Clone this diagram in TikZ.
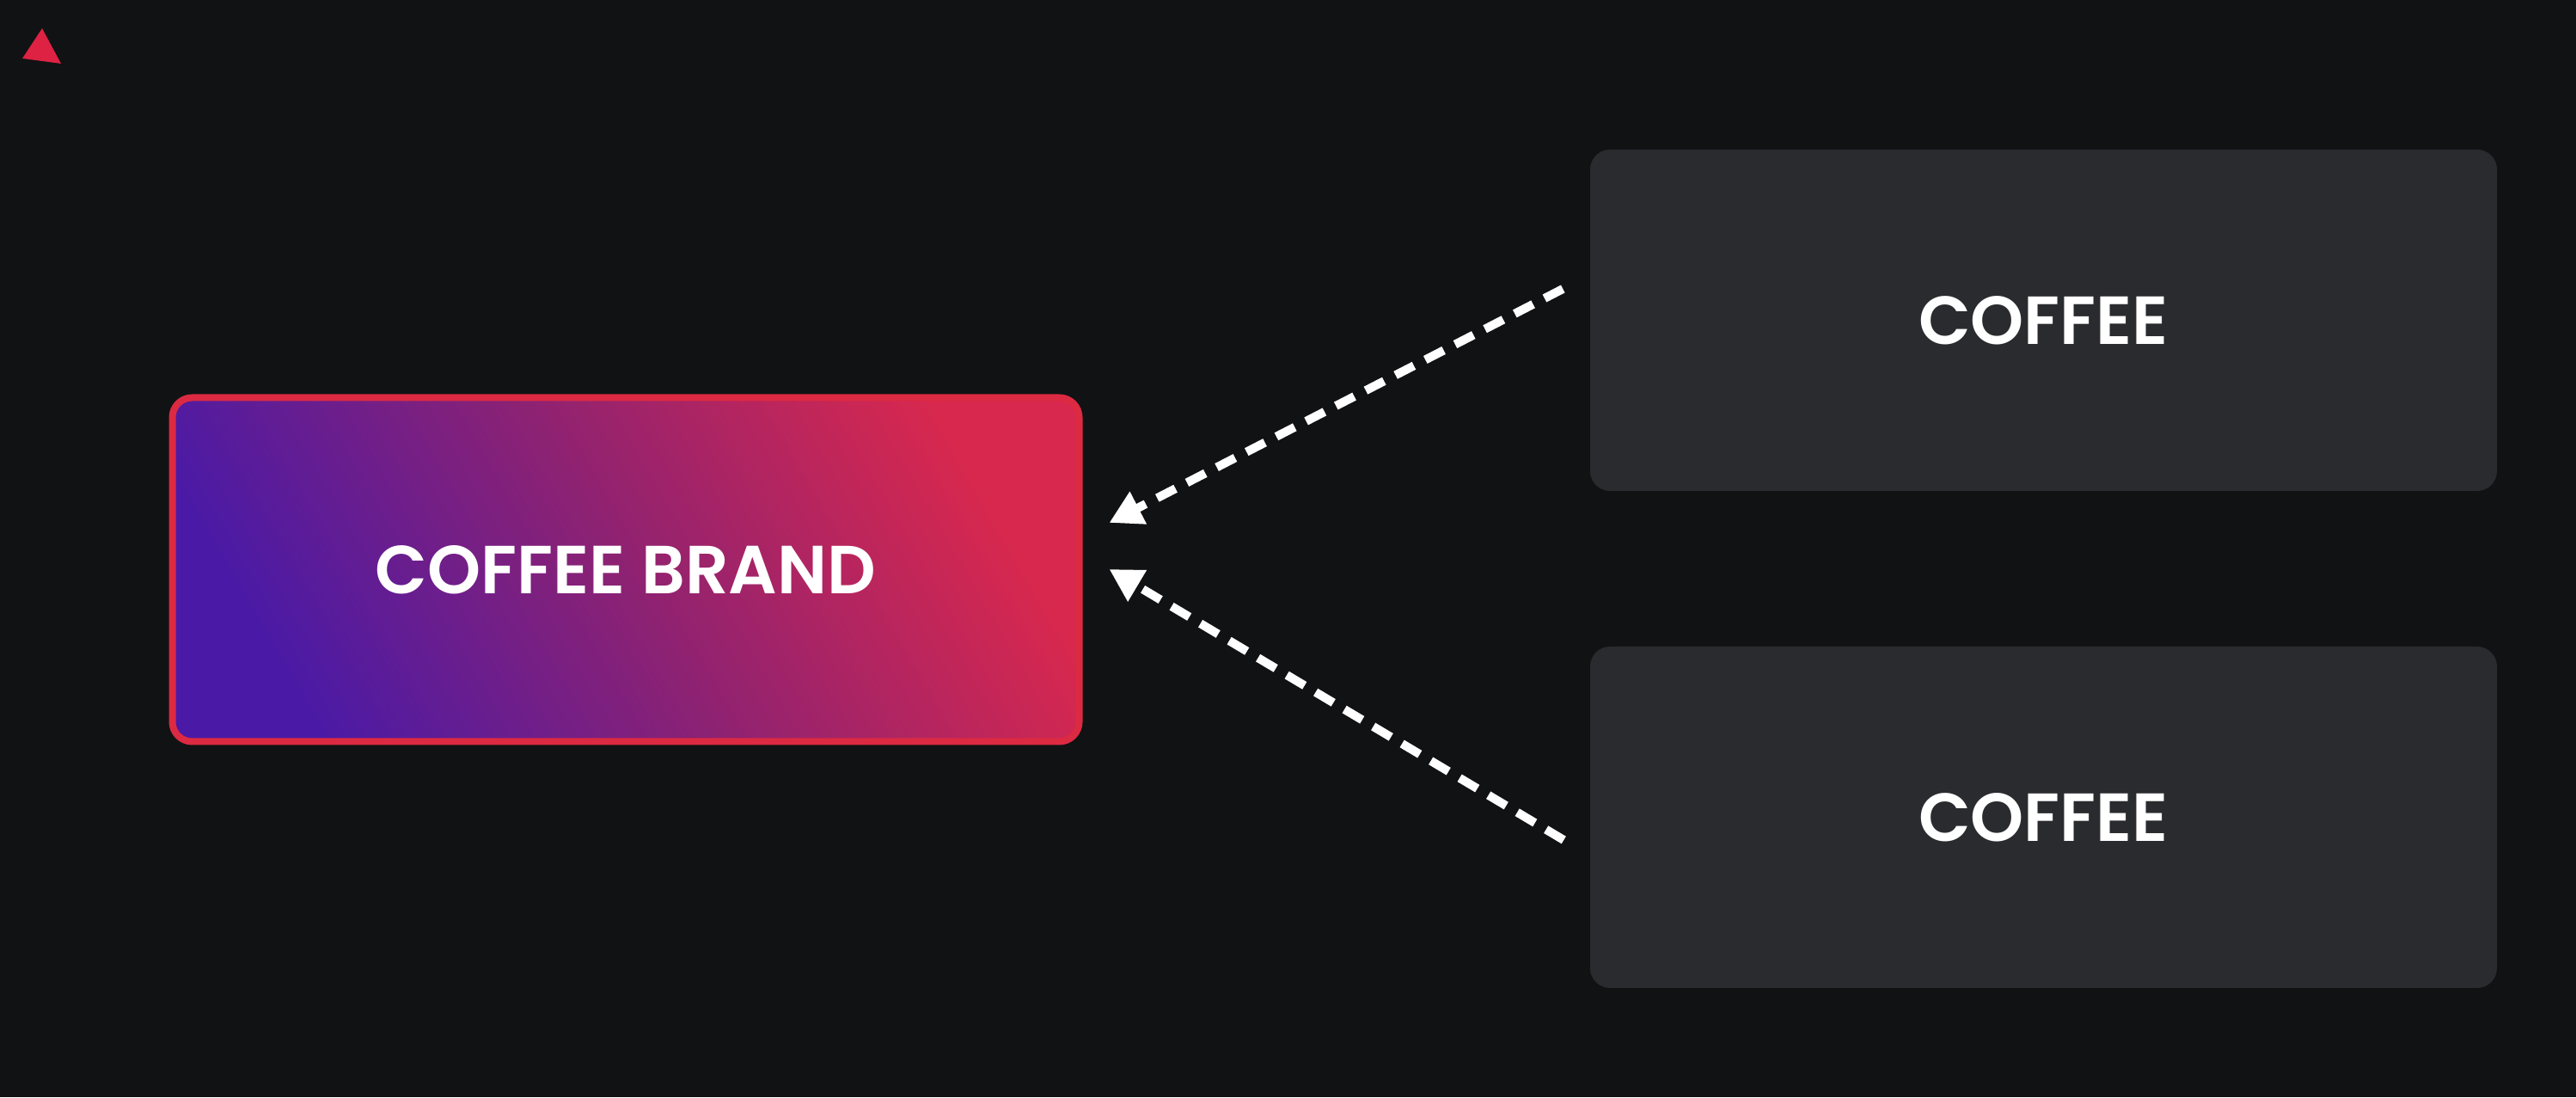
\documentclass[tikz,border=0pt]{standalone}
\usepackage{fontspec}
\setmainfont{Poppins}
\newfontfamily\lblfont{Poppins SemiBold}
\usetikzlibrary{calc,arrows.meta}
\definecolor{bgc}{HTML}{111214}
\definecolor{boxc}{HTML}{2A2B2E}
\definecolor{redc}{HTML}{DC2A42}
\definecolor{topc}{HTML}{D8284E}
\definecolor{midc}{HTML}{8E2272}
\definecolor{bluec}{HTML}{4A1AA6}
\definecolor{tric}{HTML}{DE2243}
\tikzset{
  lbl/.style={text=white, font=\lblfont\fontsize{22.5}{27}\selectfont},
  greybox/.style={lbl, fill=boxc, rounded corners=0.23cm, minimum width=10.55cm, minimum height=3.97cm, inner sep=0pt},
  brandbox/.style={lbl, draw=redc, line width=0.08cm, rounded corners=0.23cm, top color=topc, bottom color=bluec, middle color=midc, shading angle=-60, minimum width=10.55cm, minimum height=4.0cm, inner sep=0pt},
  flow/.style={white, line width=0.1cm, dash pattern=on 0.24cm off 0.15cm, -{Triangle[length=0.38cm, width=0.4cm]}}
}
\begin{document}
\begin{tikzpicture}
\fill[bgc] (0,0) rectangle (29.97,12.76);
\useasboundingbox (0,0) rectangle (29.97,12.76);
\fill[tric] (0.49,12.43) -- (0.26,12.08) -- (0.71,12.02) -- cycle;
\node[brandbox] (brand) at (7.28,6.135) {COFFEE BRAND};
\node[greybox] (top) at (23.775,9.035) {COFFEE};
\node[greybox] (bot) at (23.775,3.255) {COFFEE};
\draw[flow] ($(top.west)+(-0.31,0.365)$) -- ($(brand.east)+(0.31,0.545)$);
\draw[flow] ($(bot.west)+(-0.30,-0.265)$) -- ($(brand.east)+(0.31,0.005)$);
\end{tikzpicture}
\end{document}
